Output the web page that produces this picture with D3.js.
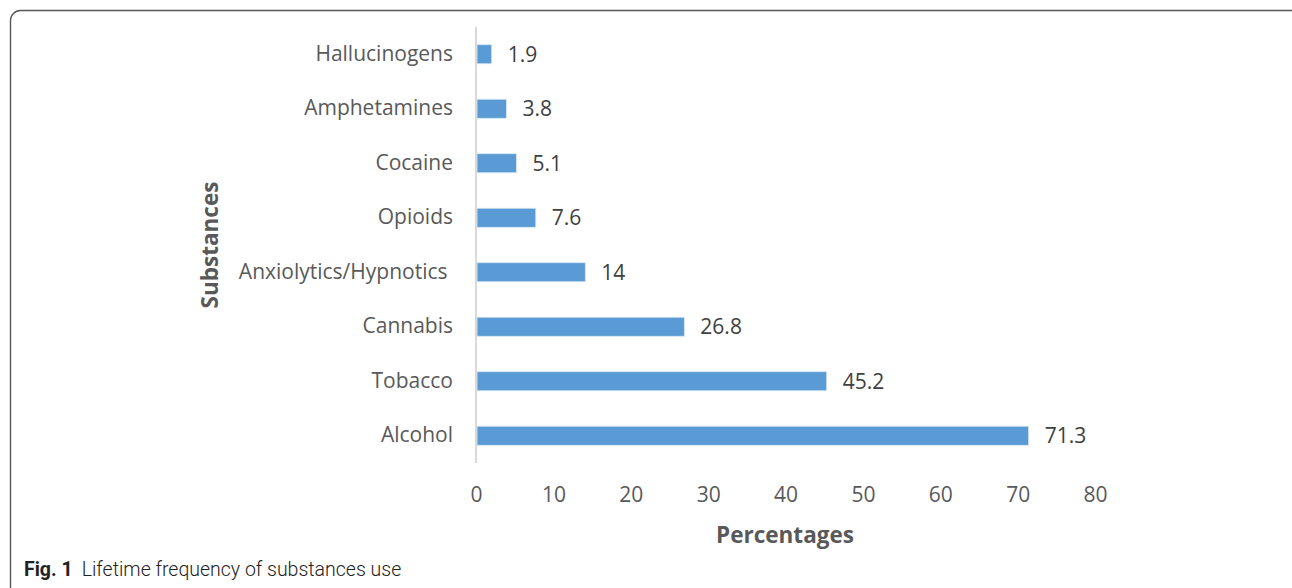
<!DOCTYPE html>
<html>
<head>
<meta charset="utf-8">
<script src="https://cdn.jsdelivr.net/npm/d3@7"></script>
<style>
  body { margin: 0; background: #fff; }
  svg text { font-family: "Open Sans", sans-serif; white-space: pre; }
</style>
</head>
<body>
<div id="chart"></div>
<script>
// chart data
var substances = ["Hallucinogens", "Amphetamines", "Cocaine", "Opioids",
                  "Anxiolytics/Hypnotics ", "Cannabis", "Tobacco", "Alcohol"];
var lifetimePct = [1.9, 3.8, 5.1, 7.6, 14, 26.8, 45.2, 71.3];
var pctTicks = [0, 10, 20, 30, 40, 50, 60, 70, 80];

var W = 1292, H = 588;
var plotL = 476, plotR = 1095, plotT = 27, plotB = 463;

var svg = d3.select("#chart")
  .append("svg")
    .attr("width", W)
    .attr("height", H);

// figure frame
svg.append("rect")
  .attr("x", 10.5).attr("y", 10.5)
  .attr("width", 1292).attr("height", 590)
  .attr("rx", 10).attr("ry", 10)
  .attr("fill", "none")
  .attr("stroke", "#555")
  .attr("stroke-width", 1.4);

var x = d3.scaleLinear().domain([0, 80]).range([plotL, plotR]);
var y = d3.scaleBand().domain(substances).range([plotT, plotB]).paddingInner(0.65).paddingOuter(0.325);

var rows = substances.map(function(s, i) { return { name: s, v: lifetimePct[i] }; });

// bars
svg.selectAll("rect.bar")
  .data(rows)
  .enter().append("rect")
    .attr("class", "bar")
    .attr("x", x(0) + 1)
    .attr("y", function(d) { return y(d.name); })
    .attr("width", function(d) { return x(d.v) - x(0); })
    .attr("height", y.bandwidth())
    .attr("fill", "#5b9bd5")
    .attr("stroke", "#dbe9f6")
    .attr("stroke-width", 0.8);

// vertical axis line
svg.append("line")
  .attr("x1", x(0)).attr("x2", x(0))
  .attr("y1", plotT).attr("y2", plotB)
  .attr("stroke", "#d9d9d9")
  .attr("stroke-width", 2);

// category labels
var yAxis = svg.append("g")
  .attr("transform", "translate(" + (x(0) - 7) + ",0)")
  .call(d3.axisLeft(y).tickSize(0).tickPadding(16));
yAxis.select(".domain").remove();
yAxis.selectAll("text")
  .attr("font-size", 21)
  .attr("fill", "#595959")
  .style("font-family", "Open Sans");

// value labels
svg.selectAll("text.val")
  .data(rows)
  .enter().append("text")
    .attr("class", "val")
    .attr("x", function(d) { return x(d.v) + 17; })
    .attr("y", function(d) { return y(d.name) + y.bandwidth() / 2; })
    .attr("dy", "0.36em")
    .attr("font-size", 21)
    .attr("fill", "#404040")
    .text(function(d) { return d.v; });

// x tick labels
var xAxis = svg.append("g")
  .attr("transform", "translate(0," + (plotB + 24) + ")")
  .call(d3.axisBottom(x).tickValues(pctTicks).tickSize(0).tickPadding(0));
xAxis.select(".domain").remove();
xAxis.selectAll("text")
  .attr("font-size", 21)
  .attr("fill", "#595959")
  .style("font-family", "Open Sans");

// axis titles
svg.append("text")
  .attr("x", 785).attr("y", 543)
  .attr("text-anchor", "middle")
  .attr("font-size", 22.5)
  .attr("font-weight", "bold")
  .attr("fill", "#595959")
  .text("Percentages");

svg.append("text")
  .attr("transform", "translate(218,245) rotate(-90)")
  .attr("text-anchor", "middle")
  .attr("font-size", 22.5)
  .attr("font-weight", "bold")
  .attr("fill", "#595959")
  .text("Substances");

// caption
var cap = svg.append("text")
  .attr("x", 24).attr("y", 576)
  .attr("font-size", 19.5)
  .attr("fill", "#222")
  .style("font-family", "'Liberation Sans Narrow', 'Roboto', sans-serif");
cap.append("tspan").attr("font-weight", "bold").text("Fig. 1");
cap.append("tspan").attr("dx", 9).attr("font-weight", 300).text("Lifetime frequency of substances use");
</script>
</body>
</html>
